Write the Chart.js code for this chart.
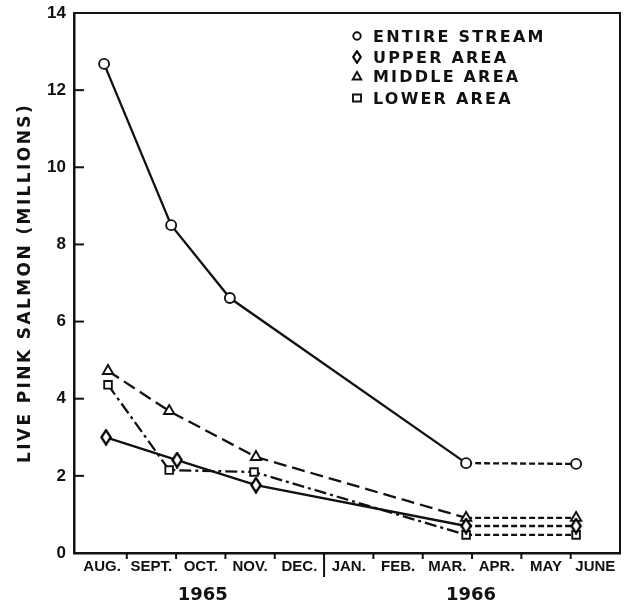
<!DOCTYPE html>
<html><head><meta charset="utf-8">
<script src="https://cdn.jsdelivr.net/npm/chart.js@4.4.1/dist/chart.umd.min.js"></script>
<style>html,body{margin:0;padding:0;background:#fff;}#wrap{width:628px;height:604px;}</style>
</head><body><div id="wrap"><canvas id="c" width="628" height="604"></canvas></div>
<script>
// ---- data ----
const monthLabels = ['AUG.','SEPT.','OCT.','NOV.','DEC.','JAN.','FEB.','MAR.','APR.','MAY','JUNE'];
const monthCenters = [0.5,1.5,2.5,3.5,4.5,5.5,6.5,7.5,8.5,9.5,10.5];
const monthBoundaries = [1,2,3,4,5,6,7,8,9,10];
const yearDivider = 5;
const yearLabels = ['1965','1966'];
const yearPositions = [2.54, 7.98];
const yTickLabelValues = [0,2,4,6,8,10,12,14];
const yTickValues = [2,4,6,8,10,12];
const seriesNames = ['ENTIRE STREAM','UPPER AREA','MIDDLE AREA','LOWER AREA'];

const entireMonth  = [0.54, 1.90, 3.09, 7.88, 10.11];
const entireValues = [12.68, 8.50, 6.61, 2.33, 2.31];
const upperMonth   = [0.58, 2.02, 3.62, 7.88, 10.11];
const upperValues  = [3.00, 2.41, 1.76, 0.70, 0.70];
const middleMonth  = [0.62, 1.86, 3.62, 7.88, 10.11];
const middleValues = [4.72, 3.68, 2.49, 0.91, 0.91];
const lowerMonth   = [0.62, 1.86, 3.58, 7.88, 10.11];
const lowerValues  = [4.36, 2.15, 2.10, 0.47, 0.47];

// ---- helpers ----
function pts(xs, ys){ return xs.map((x,i)=>({x:x, y:ys[i]})); }
function makeDiamond(w,h,lw){
  const c=document.createElement('canvas'); c.width=w; c.height=h;
  const g=c.getContext('2d'); g.lineWidth=lw; g.strokeStyle='#000'; g.fillStyle='#fff';
  const p=lw/2+0.2;
  g.beginPath(); g.moveTo(w/2,p); g.lineTo(w-p,h/2); g.lineTo(w/2,h-p); g.lineTo(p,h/2); g.closePath();
  g.fill(); g.stroke(); return c;
}
const diamondImg = makeDiamond(12,17,2.3);
const diamondLegend = makeDiamond(10,14,2.1);
const INK='#111';
const shortDash=[6,3];
function seg(base){ return { borderDash: ctx => ctx.p0DataIndex >= 3 ? shortDash : base }; }
function ds(label, data, style, base, radius){
  return { label, data, borderColor:INK, borderWidth:2.3, backgroundColor:'#fff',
    pointStyle:style, pointRadius:radius, pointBorderWidth:1.9, pointBorderColor:INK, pointBackgroundColor:'#fff',
    borderDash: base, segment: seg(base), tension:0, fill:false, clip:false };
}

const datasets = [
  ds(seriesNames[0], pts(entireMonth, entireValues), 'circle', [], 5),
  ds(seriesNames[1], pts(upperMonth, upperValues), diamondImg, [], 6),
  ds(seriesNames[2], pts(middleMonth, middleValues), 'triangle', [13,6], 6),
  ds(seriesNames[3], pts(lowerMonth, lowerValues), 'rect', [12,4,3,4], 5.4),
];
const legendStyles = ['circle','diamond','triangle','rect'];

const decor = {
  id:'decor',
  beforeDraw(chart){
    const ys = chart.scales.y;
    if (ys && !ys._lsWrapped){
      const orig = ys.drawTitle.bind(ys);
      ys.drawTitle = function(){ const c=this.ctx; c.save(); c.letterSpacing='2.4px'; orig(); c.restore(); };
      ys._lsWrapped = true;
    }
  },
  afterDraw(chart){
    const ctx=chart.ctx, a=chart.chartArea, xs=chart.scales.x, ys=chart.scales.y;
    ctx.save();
    ctx.strokeStyle=INK; ctx.lineCap='butt';
    // frame top & right
    ctx.lineWidth=2;
    ctx.beginPath(); ctx.moveTo(a.left, a.top); ctx.lineTo(a.right, a.top); ctx.lineTo(a.right, a.bottom); ctx.stroke();
    // y ticks inward
    ctx.lineWidth=2;
    yTickValues.forEach(v=>{ const y=ys.getPixelForValue(v); ctx.beginPath(); ctx.moveTo(a.left, y); ctx.lineTo(a.left+10, y); ctx.stroke(); });
    // x ticks outward
    monthBoundaries.forEach(m=>{
      const x=xs.getPixelForValue(m); const len = m===yearDivider ? 24 : 6;
      ctx.beginPath(); ctx.moveTo(x, a.bottom); ctx.lineTo(x, a.bottom+len); ctx.stroke();
    });
    // year labels
    ctx.fillStyle=INK; ctx.font='bold 18px "DejaVu Sans"'; ctx.textAlign='center'; ctx.textBaseline='alphabetic';
    yearLabels.forEach((t,i)=>{ ctx.fillText(t, xs.getPixelForValue(yearPositions[i]), 600); });
    // legend
    const rows=[42,63,82,104];
    ctx.font='bold 16px "DejaVu Sans"'; ctx.textAlign='left'; ctx.letterSpacing='2.2px';
    chart.data.datasets.forEach((d,i)=>{
      const cy=rows[i]-6, cx=357;
      ctx.lineWidth=1.9; ctx.fillStyle='#fff'; ctx.strokeStyle=INK;
      const s=legendStyles[i];
      ctx.beginPath();
      if(s==='circle'){ ctx.arc(cx,cy,3.7,0,Math.PI*2); ctx.fill(); ctx.stroke(); }
      else if(s==='diamond'){ ctx.drawImage(diamondLegend, cx-5, cy-7); }
      else if(s==='triangle'){ ctx.moveTo(cx,cy-4); ctx.lineTo(cx+4.3,cy+3.5); ctx.lineTo(cx-4.3,cy+3.5); ctx.closePath(); ctx.fill(); ctx.stroke(); }
      else { ctx.rect(cx-4,cy-3.5,8,7); ctx.fill(); ctx.stroke(); }
      ctx.fillStyle=INK;
      ctx.fillText(d.label, 373, rows[i]);
    });
    ctx.restore();
  }
};

new Chart(document.getElementById('c'), {
  type:'line',
  data:{ datasets },
  options:{
    responsive:false, animation:false, devicePixelRatio:1,
    layout:{ padding:{ top:13, right:8, left:0, bottom:0 } },
    plugins:{ legend:{display:false}, tooltip:{enabled:false} },
    scales:{
      x:{ type:'linear', min:-0.07, max:11,
        afterBuildTicks: s => { s.ticks = monthCenters.map(v=>({value:v})); },
        afterFit: s => { s.height = 51; s.paddingLeft = 0; s.paddingRight = 0; },
        ticks:{ autoSkip:false, maxRotation:0, minRotation:0, color:INK, padding:5,
          font:{ family:'"Liberation Sans"', weight:'bold', size:15 },
          callback:(v,i)=>monthLabels[i] },
        grid:{ display:false, drawTicks:false },
        border:{ display:true, color:INK, width:2.5 }
      },
      y:{ min:0, max:14,
        afterBuildTicks: s => { s.ticks = yTickLabelValues.map(v=>({value:v})); },
        afterFit: s => { s.width = 74; s.paddingTop = 0; s.paddingBottom = 0; },
        ticks:{ color:INK, padding:8, font:{ family:'"Liberation Sans"', weight:'bold', size:17 } },
        grid:{ display:false, drawTicks:false },
        border:{ display:true, color:INK, width:2.5 },
        title:{ display:true, text:'LIVE PINK SALMON (MILLIONS)', color:INK, padding:{top:15,bottom:0},
          font:{ family:'"DejaVu Sans"', weight:'bold', size:17 } }
      }
    }
  },
  plugins:[decor]
});
</script>
</body></html>
